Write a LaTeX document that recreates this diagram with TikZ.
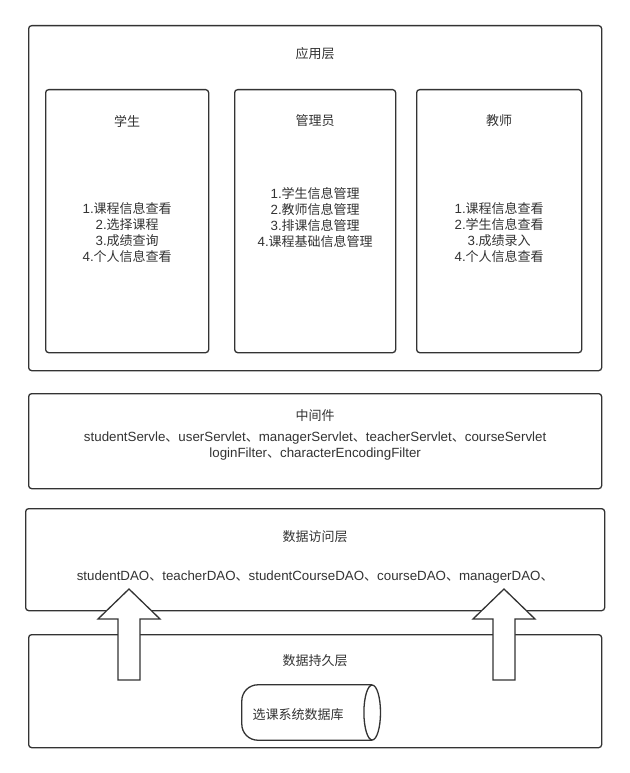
\documentclass[tikz,border=0pt]{standalone}
\usepackage{fontspec}
\setmainfont{Liberation Sans}[Scale=1.025]
\newfontfamily\zhfont{Noto Sans CJK SC}
\newcommand{\zh}[1]{{\zhfont #1}}
\usetikzlibrary{shapes.geometric,positioning,calc}
\definecolor{linecol}{HTML}{333333}
\tikzset{
    layerbox/.style={
        rectangle,                % caja de cada capa
        rounded corners=3pt,      % esquinas apenas redondeadas
        draw=linecol,
        line width=1.3pt,
        fill=white,
        anchor=north west,        % se coloca por su esquina superior izquierda
        inner sep=0pt
    },
    labeltext/.style={
        text=linecol,
        font=\fontsize{13}{16}\selectfont,
        align=center,
        inner sep=0pt
    },
    dbbody/.style={
        rectangle,                % cuerpo de la base de datos (sin borde propio)
        minimum width=130pt,
        minimum height=55pt,
        inner sep=0pt
    },
    dbline/.style={
        draw=linecol,
        line width=1.3pt,
        rounded corners=16pt      % extremo izquierdo redondeado
    },
    blockarrow/.style={
        draw=linecol,
        line width=1.3pt,
        fill=white,               % tapa los bordes de las cajas
        to path={let \p1=(\tikztostart), \p2=(\tikztotarget) in
            (\x1-11pt,\y1) -- (\x1-11pt,\y2-30pt) -- (\x1-31pt,\y2-30pt) -- (\x2,\y2)
            -- (\x1+31pt,\y2-30pt) -- (\x1+11pt,\y2-30pt) -- (\x1+11pt,\y1) -- cycle}
    }
}

\begin{document}
\begin{tikzpicture}[x=1pt, y=-1pt]
    \useasboundingbox (0,0) rectangle (629,773);

    % capa de aplicación
    \node[layerbox, minimum width=573pt, minimum height=345pt] (app) at (28,25) {};
    \node[labeltext] (appTitle) at ($(app.north)+(0,29)$) {\zh{应用层}};
    \node[layerbox, minimum width=163pt, minimum height=263pt] (student) at (45,89) {};
    \node[layerbox, minimum width=161pt, minimum height=263pt] (admin) at (234,89) {};
    \node[layerbox, minimum width=165pt, minimum height=263pt] (teacher) at (416,89) {};
    \node[labeltext] (studentTitle) at ($(student.north)+(0,32)$) {\zh{学生}};
    \node[labeltext] (adminTitle) at ($(admin.north)+(0,32)$) {\zh{管理员}};
    \node[labeltext] (teacherTitle) at ($(teacher.north)+(0,32)$) {\zh{教师}};
    \node[labeltext] (studentItems) at ($(student.north)+(0,144)$)
        {1.\zh{课程信息查看}\\2.\zh{选择课程}\\3.\zh{成绩查询}\\4.\zh{个人信息查看}};
    \node[labeltext] (adminItems) at ($(admin.north)+(0,129)$)
        {1.\zh{学生信息管理}\\2.\zh{教师信息管理}\\3.\zh{排课信息管理}\\4.\zh{课程基础信息管理}};
    \node[labeltext] (teacherItems) at ($(teacher.north)+(0,144)$)
        {1.\zh{课程信息查看}\\2.\zh{学生信息查看}\\3.\zh{成绩录入}\\4.\zh{个人信息查看}};

    % middleware
    \node[layerbox, minimum width=573pt, minimum height=95pt] (middle) at (28,393) {};
    \node[labeltext] (middleTitle) at ($(middle.north)+(0,23)$) {\zh{中间件}};
    \node[labeltext] (middleItems) at ($(middle.north)+(0,53.5)$)
        {studentServle\zh{、}userServlet\zh{、}managerServlet\zh{、}teacherServlet\zh{、}courseServlet\\
         loginFilter\zh{、}characterEncodingFilter};

    % acceso a datos
    \node[layerbox, minimum width=579pt, minimum height=102pt] (dao) at (25,508) {};
    \node[labeltext] (daoTitle) at ($(dao.north)+(0,29)$) {\zh{数据访问层}};
    \node[labeltext] (daoItems) at ($(dao.north)+(0,69)$)
        {studentDAO\zh{、}teacherDAO\zh{、}studentCourseDAO\zh{、}courseDAO\zh{、}managerDAO\zh{、}};

    % persistencia
    \node[layerbox, minimum width=573pt, minimum height=113pt] (persist) at (28,634) {};
    \node[labeltext] (persistTitle) at ($(persist.north)+(0,27)$) {\zh{数据持久层}};
    \node[dbbody] (db) at (307,712.5) {};
    \draw[dbline] (db.north east) -- (db.north west) -- (db.south west) -- (db.south east);
    \draw[dbline] (db.east) ellipse (8.3pt and 27.5pt);
    \node[labeltext] (dbName) at ($(db.center)+(-9,2)$) {\zh{选课系统数据库}};

    \coordinate (tailL) at (129,680);
    \coordinate (tipL) at (129,589);
    \coordinate (tailR) at (504,680);
    \coordinate (tipR) at (504,589);
    \draw[blockarrow] (tailL) to (tipL);
    \draw[blockarrow] (tailR) to (tipR);
\end{tikzpicture}
\end{document}
